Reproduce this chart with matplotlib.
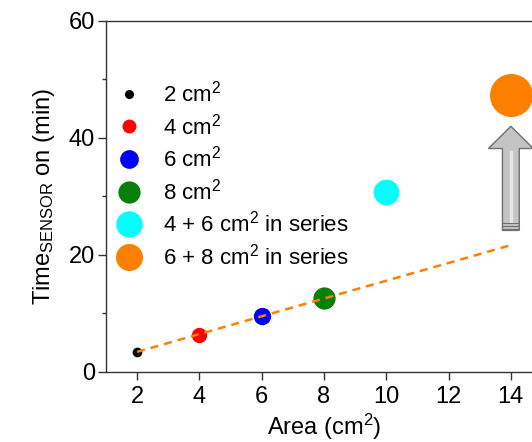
import numpy as np
import matplotlib
matplotlib.use('Agg')
import matplotlib.pyplot as plt
from matplotlib.lines import Line2D
from matplotlib.patches import FancyArrow

# -------------------------
# Data
# -------------------------
areas = [2, 4, 6, 8, 10, 14]
times = [3.5, 6.4, 9.5, 12.6, 30.8, 47.3]
labels = ['2 cm$^2$', '4 cm$^2$', '6 cm$^2$', '8 cm$^2$',
          '4 + 6 cm$^2$ in series', '6 + 8 cm$^2$ in series']
colors = ['black', '#ff0000', '#0000ff', '#087f08', '#00ffff', '#ff8000']
sizes = [7, 11, 12.5, 16, 18.5, 31]
legend_sizes = [6.5, 10, 13.5, 16, 19, 19.5]

# single-sensor points used for the linear trend
fit_x = np.array(areas[:4])
fit_y = np.array(times[:4])
trend_x = np.array([2, 14])

# -------------------------
# Style
# -------------------------
plt.rcParams['font.family'] = ['Liberation Sans', 'DejaVu Sans']
plt.rcParams['mathtext.fontset'] = 'custom'
plt.rcParams['mathtext.rm'] = 'Liberation Sans'
plt.rcParams['mathtext.it'] = 'Liberation Sans'

fig = plt.figure(figsize=(5.32, 4.42), dpi=100, facecolor='white')
ax = fig.add_axes([0.1992, 0.1584, 0.8196, 0.7941])

for x, y, c, s in zip(areas, times, colors, sizes):
    ax.plot(x, y, 'o', color=c, markersize=s, markeredgewidth=0, zorder=3)

# linear trend through the single sensors
slope, intercept = np.polyfit(fit_x, fit_y, 1)
ax.plot(trend_x, slope * trend_x + intercept, color='#ff8000', lw=1.8,
        dashes=(3.2, 2.4), zorder=4)

# grey arrow up to the series point
ax.add_patch(FancyArrow(14, 24.2, 0, 17.8, width=0.54, head_width=1.44,
                        head_length=3.8, length_includes_head=True,
                        facecolor='#c4c4c4', edgecolor='#707070', lw=1, zorder=2))
ax.plot([14.02, 14.02], [25.8, 37.6], color='#e6e6e6', lw=2.5, zorder=2.5)
for yy in [24.5, 25.0, 25.5]:
    ax.plot([13.74, 14.26], [yy, yy], color='#707070', lw=0.8, zorder=3)

# legend
handles = [Line2D([], [], ls='none', marker='o', color=c, markersize=s, markeredgewidth=0)
           for c, s in zip(colors, legend_sizes)]
ax.legend(handles, labels, loc='upper left', bbox_to_anchor=(0.008, 0.855),
          frameon=False, fontsize=16, labelspacing=0.3, handletextpad=1.0,
          handlelength=1.0, borderaxespad=0)

# -------------------------
# Axes
# -------------------------
ax.set_xlim(1, 15)
ax.set_ylim(0, 60)
ax.set_xticks([2, 4, 6, 8, 10, 12, 14])
ax.set_yticks([0, 20, 40, 60])
ax.set_yticks([10, 30, 50], minor=True)
ax.tick_params(axis='both', which='major', direction='out', length=6, width=1,
               labelsize=17, color='#333333', pad=2)
ax.tick_params(axis='x', which='major', pad=4)
ax.tick_params(axis='y', which='minor', direction='out', length=3, width=1, color='#333333')
for sp in ax.spines.values():
    sp.set_color('#333333')
    sp.set_linewidth(1)

ax.set_xlabel('Area (cm$^2$)', fontsize=17, labelpad=2.5)
ax.set_ylabel('Time$_{\\mathregular{SENSOR}}$ on (min)', fontsize=17, labelpad=8)

fig.savefig('out.png', dpi=100, facecolor='white')
